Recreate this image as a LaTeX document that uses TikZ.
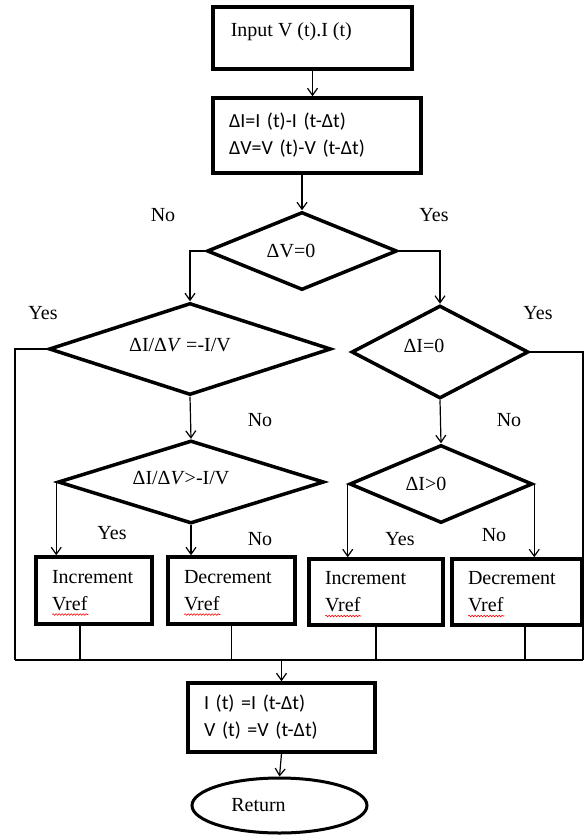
\documentclass[tikz,border=0pt]{standalone}
\usepackage{fontspec}
\setmainfont{Liberation Serif}
\newfontfamily\calibri{Carlito}
\usepackage{tikz}
\usetikzlibrary{shapes,positioning,arrows.meta,decorations.pathmorphing}
\hyphenpenalty=10000
\exhyphenpenalty=10000

% rote Wellenlinie unter Vref
\newcommand{\unterwellt}[1]{\draw[wellig] ([xshift=18pt,yshift=-24pt]#1.west) -- ++(36,0);}

\begin{document}
\begin{tikzpicture}[x=1pt,y=-1pt,font=\fontsize{20}{27}\selectfont]

\tikzset{>={Straight Barb[length=7pt,width=10pt]}}
\tikzstyle{kasten}=[draw,rectangle,line width=3.5pt,inner xsep=16pt,inner ysep=0pt,align=left]
\tikzstyle{raute}=[draw,diamond,line width=3.5pt,inner sep=0pt]
\tikzstyle{linie}=[line width=1.2pt]
\tikzstyle{wellig}=[red,line width=0.6pt,decorate,decoration={snake,amplitude=0.8pt,segment length=3pt}]

\useasboundingbox (0,0) rectangle (586,835);

% Kaesten oben
\node[kasten,minimum width=199,minimum height=62,
  label={[anchor=west,xshift=16pt,yshift=6pt]west:Input V (t).I (t)}] (b1) at (312.5,38) {};
\node[kasten,text width=176,minimum height=75,font=\fontsize{20}{27}\selectfont\calibri] (b2) at (317,135.5)
  {ΔI=I (t)-I (t-Δt)\\ΔV=V (t)-V (t-Δt)};

% Rauten
\node[raute,minimum width=190,minimum height=78,
  label={[xshift=-11pt]center:ΔV=0}] (d1) at (302,251) {};
\node[raute,minimum width=282,minimum height=92,
  label={[xshift=-10pt,yshift=4pt]center:ΔI/Δ\textit{V} =-I/V}] (d2) at (190,349) {};
\node[raute,minimum width=177,minimum height=93,
  label={[xshift=-16pt,yshift=6pt]center:ΔI=0}] (d3) at (440,352) {};
\node[raute,minimum width=266,minimum height=83,
  label={[xshift=-10pt,yshift=4pt]center:ΔI/Δ\textit{V}>-I/V}] (d4) at (191,482) {};
\node[raute,minimum width=183,minimum height=78,
  label={[xshift=-15pt]center:ΔI>0}] (d5) at (441,484) {};

% Kaesten Vref
\node[kasten,text width=84,minimum height=67] (inc1) at (94,590.5) {Increment\\Vref};
\node[kasten,text width=95,minimum height=67] (dec1) at (231.5,590.5) {Decrement\\Vref};
\node[kasten,text width=102,minimum height=66] (inc2) at (376,592) {Increment\\Vref};
\node[kasten,text width=98,minimum height=66] (dec2) at (517,592) {Decrement\\Vref};
\unterwellt{inc1}
\unterwellt{dec1}
\unterwellt{inc2}
\unterwellt{dec2}

% Kasten unten und Ende
\node[kasten,text width=155,minimum height=69,font=\fontsize{20}{27}\selectfont\calibri] (b5) at (281.5,717.5)
  {I (t) =I (t-Δt)\\V (t) =V (t-Δt)};
\node[draw,ellipse,line width=3pt,minimum width=175,minimum height=55,inner sep=0pt,
  label={[xshift=-21pt]center:Return}] (ret) at (279.5,805.5) {};

% Beschriftungen
\node (n1) at (163,215) {No};
\node (y1) at (434,215) {Yes};
\node (y2) at (43,313) {Yes};
\node (y3) at (538,313) {Yes};
\node (n2) at (260,420) {No};
\node (n3) at (509,420) {No};
\node (y4) at (112,533) {Yes};
\node (n4) at (260,539) {No};
\node (y5) at (400,539) {Yes};
\node (n5) at (494,535) {No};

% Sammelleitung
\coordinate (bl) at (15,660);
\coordinate (br) at (583,660);

% Verbindungen
\draw[linie,->] (b1.south) -- (b1.south |- b2.north);
\draw[linie,->] (d1.north |- b2.south) -- (d1.north);
\draw[linie,->] (d1.west) -| (d2.north);
\draw[linie,->] (d1.east) -| (d3.north);
\draw[linie] (d2.west) -| (bl);
\draw[linie] (d3.east) -| (br);
\draw[linie,->] (d2.south) -- (d4.north);
\draw[linie,->] (d3.south) -- (d5.north);
\draw[linie,->] (d4.west) -- (d4.west |- inc1.north);
\draw[linie,->] (d4.south) -- (d4.south |- dec1.north);
\draw[linie,->] (d5.west) -- (d5.west |- inc2.north);
\draw[linie,->] (d5.east) -- (d5.east |- dec2.north);
\draw[linie] ([xshift=-14pt]inc1.south) -- ([xshift=-14pt]inc1.south |- bl);
\draw[linie] (dec1.south) -- (dec1.south |- bl);
\draw[linie] (inc2.south) -- (inc2.south |- bl);
\draw[linie] ([xshift=8pt]dec2.south) -- ([xshift=8pt]dec2.south |- bl);
\draw[linie] (bl) -- (br);
\draw[linie,->] (b5.north |- bl) -- (b5.north);
\draw[linie,->] (b5.south) -- (ret.north);

\end{tikzpicture}
\end{document}
